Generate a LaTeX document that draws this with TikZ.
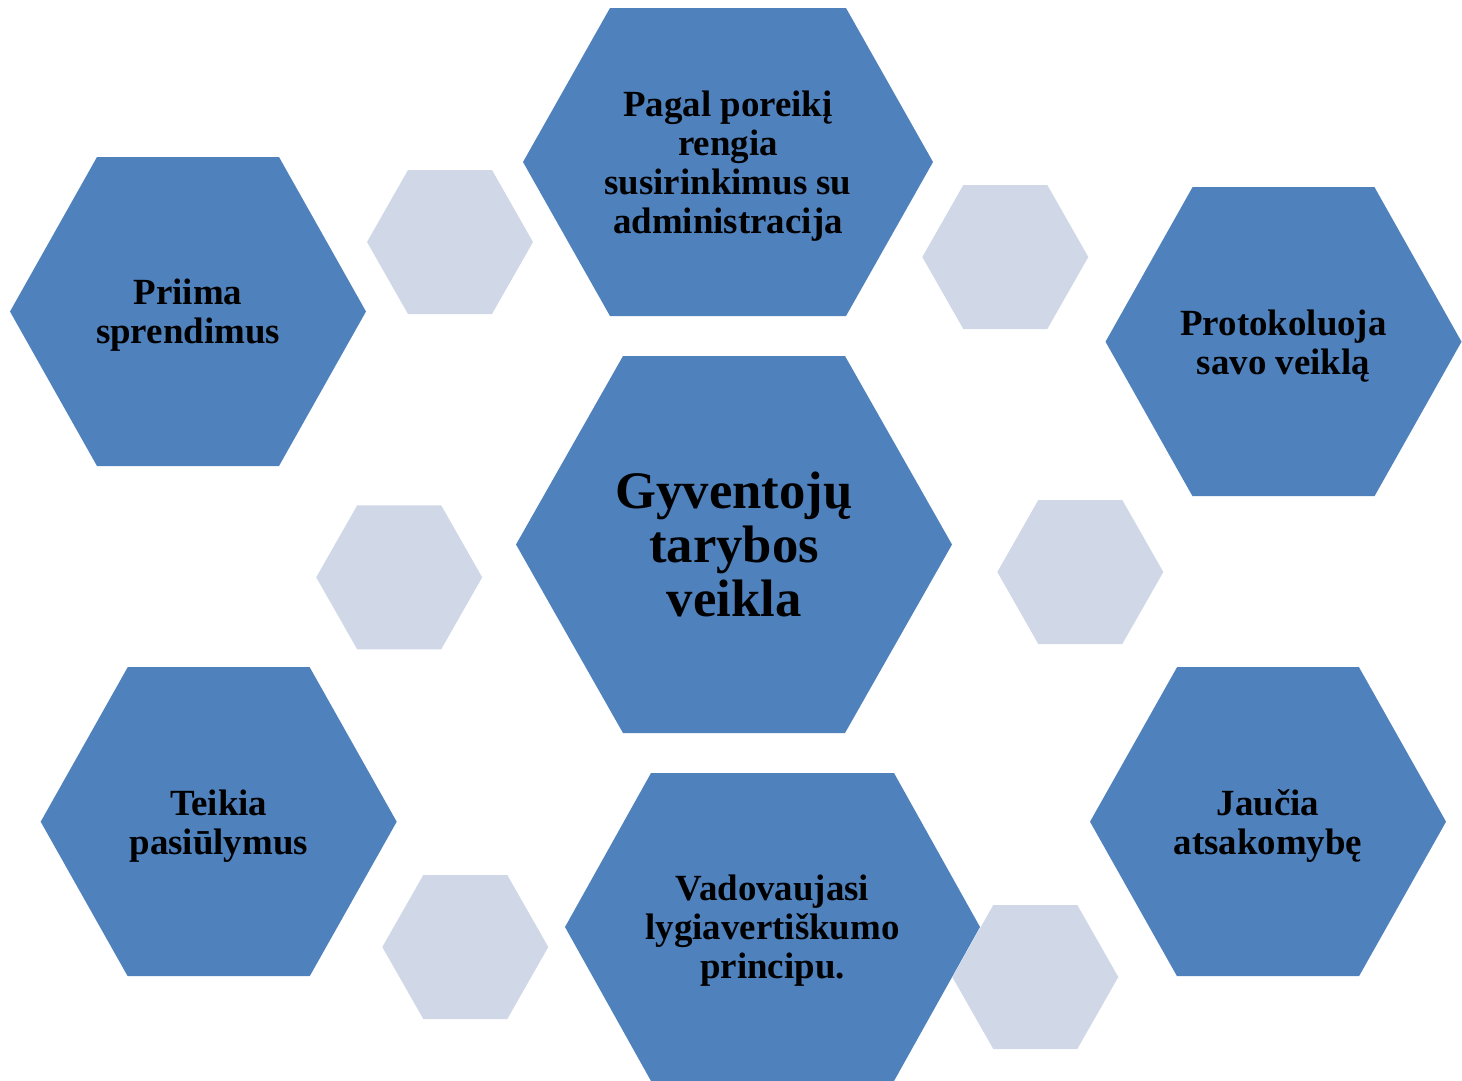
\documentclass[tikz,border=0pt]{standalone}
\usepackage{fontspec}
\setmainfont{Liberation Serif}
\usepackage{xcolor}
\definecolor{hexblue}{HTML}{4F81BD}
\definecolor{hexpale}{HTML}{D0D8E8}
% fill, centre, half width, half top edge, half height
\newcommand{\hexcell}[5]{%
  \fill [#1,shift={(#2)}]
    (-#3,0) -- (-#4,-#5) -- (#4,-#5) -- (#3,0) -- (#4,#5) -- (-#4,#5) -- cycle;}

\begin{document}
\begin{tikzpicture}[x=0.02cm,y=-0.02cm,
    cell/.style={align=center,yshift=-0.08cm,font=\fontsize{21}{22.2}\selectfont\bfseries},
    core/.style={align=center,font=\fontsize{30}{30.7}\selectfont\bfseries}]
\useasboundingbox (0,0) rectangle (1462,1080);
\path
    (734,544.5) coordinate (veikla)
    (728,162) coordinate (rengia)
    (188,311.5) coordinate (priima)
    (1283.5,341.7) coordinate (protokol)
    (218.7,821.7) coordinate (teikia)
    (1268,821.7) coordinate (jaucia)
    (772.5,927) coordinate (vadovauj);
\path
    (450,242) coordinate (gap1)
    (1005.3,257) coordinate (gap2)
    (399.2,577.3) coordinate (gap3)
    (1080.3,572) coordinate (gap4)
    (465.3,947) coordinate (gap5)
    (1035.3,977) coordinate (gap6);
% blue cells
\hexcell{hexblue}{veikla}{218}{111}{188.5}
\hexcell{hexblue}{rengia}{205}{118}{154}
\hexcell{hexblue}{priima}{178}{91}{154.5}
\hexcell{hexblue}{protokol}{178}{91}{154.5}
\hexcell{hexblue}{teikia}{178}{91}{154.5}
\hexcell{hexblue}{jaucia}{178}{91}{154.5}
\hexcell{hexblue}{vadovauj}{207.5}{121.5}{154}
% pale cells
\foreach \g in {gap1,gap2,gap3,gap4,gap5,gap6}
    \hexcell{hexpale}{\g}{83}{42}{72};
% texts
\path
    (veikla) node [core] (veiklatext) {Gyventojų\\tarybos\\veikla}
    (rengia) node [cell] (rengiatext) {Pagal poreikį\\rengia\\susirinkimus su\\administracija}
    (priima) node [cell] (priimatext) {Priima\\sprendimus}
    (protokol) node [cell] (protokoltext) {Protokoluoja\\savo veiklą}
    (teikia) node [cell] (teikiatext) {Teikia\\pasiūlymus}
    (jaucia) node [cell] (jauciatext) {Jaučia\\atsakomybę}
    (vadovauj) node [cell] (vadovaujtext) {Vadovaujasi\\lygiavertiškumo\\principu.};
\end{tikzpicture}
\end{document}
